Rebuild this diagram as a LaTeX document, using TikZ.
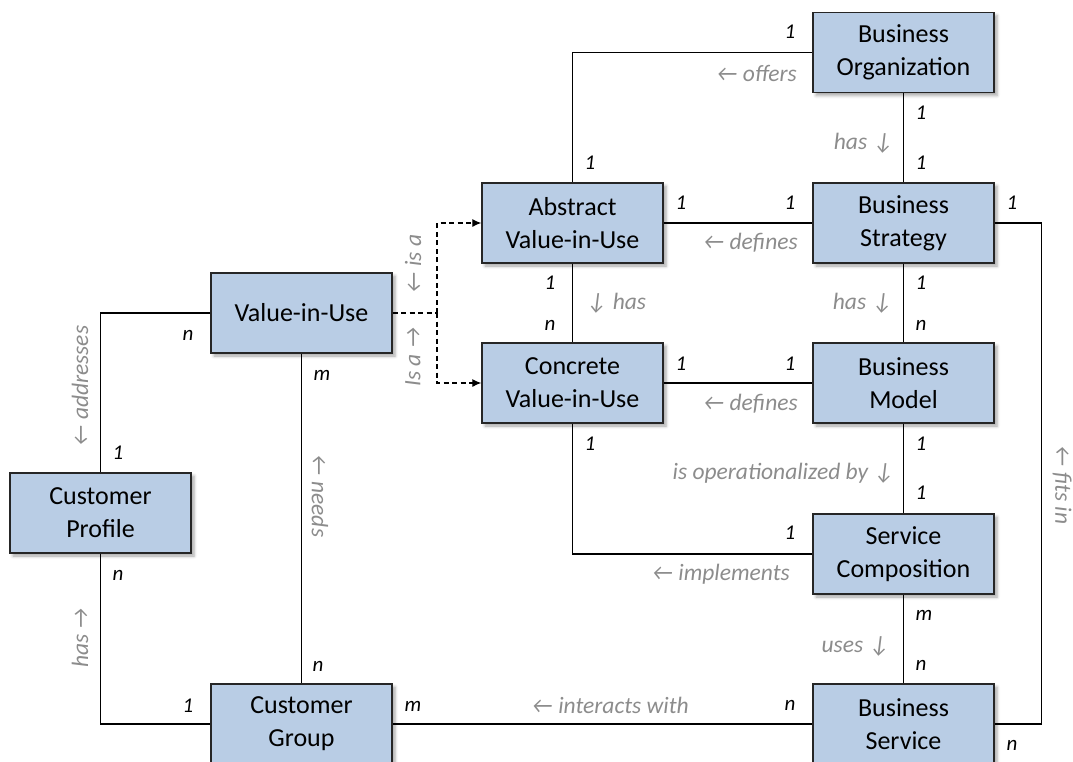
\documentclass[tikz,border=0pt]{standalone}
\usepackage{fontspec}
\setmainfont{Carlito}
\usetikzlibrary{arrows.meta,shadows.blur}

\definecolor{boxfill}{HTML}{B9CDE5}
\definecolor{boxline}{HTML}{262626}
\definecolor{relgray}{HTML}{8C8C8C}

\tikzset{
  entity/.style={draw=boxline, line width=1.3pt, fill=boxfill,
    minimum width=181pt, minimum height=80pt, inner sep=0pt, align=center,
    font=\fontsize{26}{33}\selectfont,
    blur shadow={shadow xshift=3pt, shadow yshift=-3pt,
      shadow blur radius=3pt, shadow opacity=35}},
  link/.style={line width=1.2pt, draw=black},
  isalink/.style={line width=1.2pt, dash pattern=on 5pt off 3.5pt},
  isahead/.style={isalink, -{Latex[length=9pt,width=8pt]}},
  mult/.style={font=\fontsize{21}{24}\selectfont\itshape, inner sep=0pt},
  rel/.style={font=\fontsize{23.5}{27}\selectfont\itshape, text=relgray, inner sep=0pt},
}

\begin{document}
\begin{tikzpicture}[x=1pt, y=-1pt]
  \clip (0,0) rectangle (1073,761);
  \useasboundingbox (0,0) rectangle (1073,761);

  % entities
  \node[entity] (bo)  at (903.5,52.5) {Business\\Organization};
  \node[entity] (avu) at (572.5,223)  {Abstract\\Value-in-Use};
  \node[entity] (bs)  at (903.5,223)  {Business\\Strategy};
  \node[entity] (viu) at (301.5,313)  {Value-in-Use};
  \node[entity] (cvu) at (572.5,383)  {Concrete\\Value-in-Use};
  \node[entity] (bm)  at (903.5,383)  {Business\\Model};
  \node[entity] (cp)  at (100.5,513)  {Customer\\Profile};
  \node[entity] (sc)  at (903.5,554)  {Service\\Composition};
  \node[entity] (cg)  at (301.5,724)  {Customer\\Group};
  \node[entity] (bsv) at (903.5,724)  {Business\\Service};

  % relationships
  \draw[link] (bo.west) -| (avu.north);
  \draw[link] (bo.south) -- (bs.north);
  \draw[link] (avu.east) -- (bs.west);
  \draw[link] (avu.south) -- (cvu.north);
  \draw[link] (bs.south) -- (bm.north);
  \draw[link] (cvu.east) -- (bm.west);
  \draw[link] (bm.south) -- (sc.north);
  \draw[link] (sc.west) -| (cvu.south);
  \draw[link] (sc.south) -- (bsv.north);
  \draw[link] (cg.east) -- (bsv.west);
  \draw[link] (bs.east) -- ++(47,0) |- (bsv.east);
  \draw[link] (viu.west) -| (cp.north);
  \draw[link] (viu.south) -- (cg.north);
  \draw[link] (cp.south) |- (cg.west);

  % specialisation
  \coordinate (isa) at (437,313);
  \draw[isalink] (viu.east) -- (isa);
  \draw[isahead] (isa) |- (avu.west);
  \draw[isahead] (isa) |- (cvu.west);

  % relationship names
  \node[rel, anchor=east] (lofe) at (797,73)  {← offers};
  \node[rel, anchor=east] (lhas1) at (894,143) {has ↓};
  \node[rel, anchor=east] (ldef1) at (798,243) {← defines};
  \node[rel, anchor=west] (lhas2) at (586,303) {↓ has};
  \node[rel, anchor=east] (lhas3) at (893,303) {has ↓};
  \node[rel, anchor=east] (ldef2) at (798,404) {← defines};
  \node[rel, anchor=east] (lops) at (895,473) {is operationalized by ↓};
  \node[rel, anchor=east] (limp) at (790,574) {← implements};
  \node[rel, anchor=east] (luse) at (890,646) {uses ↓};
  \node[rel, anchor=east] (lint) at (689,705) {← interacts with};
  \node[rel, rotate=90]  (ladd) at (80,386)   {← addresses};
  \node[rel, rotate=90]  (lisa1) at (413,264) {← is a};
  \node[rel, rotate=90]  (lisa2) at (413,357) {Is a →};
  \node[rel, rotate=-90] (lneed) at (320,496) {← needs};
  \node[rel, rotate=90]  (lhas4) at (80,638)  {has →};
  \node[rel, rotate=-90] (lfit) at (1062,485) {← fits in};

  % multiplicities
  \node[mult] (m1)  at (790,32)   {1};
  \node[mult] (m2)  at (921,113)  {1};
  \node[mult] (m3)  at (921,163)  {1};
  \node[mult] (m4)  at (590,163)  {1};
  \node[mult] (m5)  at (681,203)  {1};
  \node[mult] (m6)  at (790,203)  {1};
  \node[mult] (m7)  at (1012,203) {1};
  \node[mult] (m8)  at (550,283)  {1};
  \node[mult] (m9)  at (550,325)  {n};
  \node[mult] (m10) at (921,283)  {1};
  \node[mult] (m11) at (921,325)  {n};
  \node[mult] (m12) at (681,364)  {1};
  \node[mult] (m13) at (790,364)  {1};
  \node[mult] (m14) at (590,444)  {1};
  \node[mult] (m15) at (921,444)  {1};
  \node[mult] (m16) at (921,493)  {1};
  \node[mult] (m17) at (790,533)  {1};
  \node[mult] (m18) at (924,615)  {m};
  \node[mult] (m19) at (921,665)  {n};
  \node[mult] (m20) at (790,705)  {n};
  \node[mult] (m21) at (1012,745) {n};
  \node[mult] (m22) at (413,706)  {m};
  \node[mult] (m23) at (188,706)  {1};
  \node[mult] (m24) at (318,666)  {n};
  \node[mult] (m25) at (118,575)  {n};
  \node[mult] (m26) at (118,453)  {1};
  \node[mult] (m27) at (188,335)  {n};
  \node[mult] (m28) at (322,375)  {m};
\end{tikzpicture}
\end{document}
